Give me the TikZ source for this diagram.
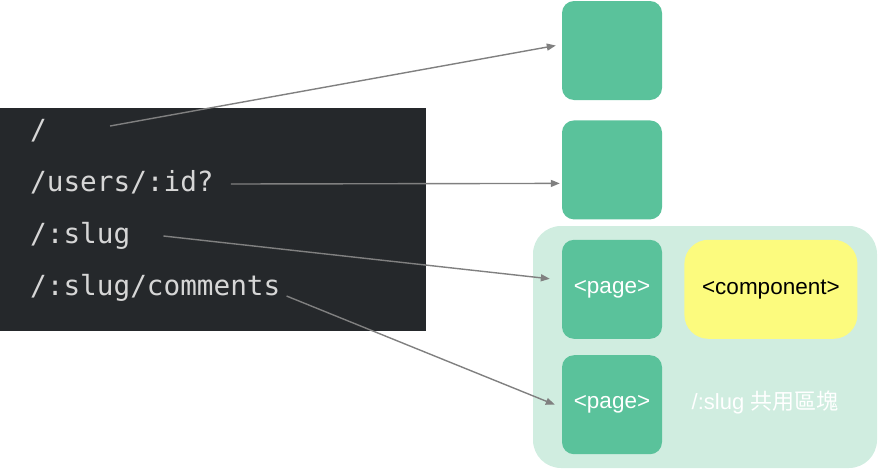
\documentclass[tikz,border=0pt]{standalone}
\usepackage{fontspec}
\setmainfont{Liberation Sans}
\setmonofont{DejaVu Sans Mono}
\newfontfamily\cjkfont{Noto Sans CJK TC}
\usetikzlibrary{positioning, arrows.meta}
\definecolor{codebg}{HTML}{25282B}
\definecolor{codefg}{HTML}{D6D6D6}
\definecolor{viewgreen}{HTML}{5AC29B}
\definecolor{sharedgreen}{HTML}{D0EDE0}
\definecolor{widgetyellow}{HTML}{FCFB7E}
\definecolor{linkgray}{HTML}{808080}
\tikzset{
  > = {Triangle[length = 9pt, width = 7pt]},   % small filled arrowheads
  route/.style = {anchor = base west, inner sep = 0pt, text = codefg,
    text height = 20pt, text depth = 6pt,
    font = \ttfamily\fontsize{27.7}{32}\selectfont},
  view/.style = {fill = viewgreen, rounded corners = 12pt, text = white,
    minimum width = 100pt, minimum height = 99pt,
    font = \fontsize{22.5}{26}\selectfont},
  widget/.style = {view, fill = widgetyellow, rounded corners = 24pt,
    minimum width = 173pt, text = black},
  shared/.style = {fill = sharedgreen, rounded corners = 28pt,
    minimum width = 344pt, minimum height = 242pt},
  match/.style = {->, draw = linkgray, line width = 1.4pt}
}
\def \gap {20pt}

\begin{document}
\begin{tikzpicture}[x = 1pt, y = -1pt]
\useasboundingbox (0,0) rectangle (878,469);

%% Route table
\node [fill = codebg, minimum width = 426pt, minimum height = 223pt, inner sep = 0pt] (code) at (213,219.5) {};
\node [route] (r1) at (30,139) {/};
\node [route] (r2) at (30,191) {/users/:id?};
\node [route] (r3) at (30,243) {/:slug};
\node [route] (r4) at (30,295) {/:slug/comments};

%% Shared block
\node [shared] (slug) at (705,347) {};
\node [font = \fontsize{22}{26}\selectfont, text = white] (slugname) at (765,402) {/:slug {\cjkfont 共用區塊}};

%% Views
\node [view] (v1) at (612,50.5) {};
\node [view] (v2) [below = \gap of v1] {};
\node [view] (p1) [below = \gap of v2] {<page>};
\node [view] (p2) [below = 16pt of p1] {<page>};
\node [widget] (comp) [right = 22pt of p1] {<component>};

%% Matches
\draw [match] ([xshift = 63pt, yshift = 6pt]r1.east) -- ([xshift = -6pt, yshift = 5pt]v1.west);
\draw [match] ([xshift = 17pt]r2.east) -- ([xshift = -2pt, yshift = -13.5pt]v2.west);
\draw [match] ([xshift = 33pt]r3.east) -- ([xshift = -12pt, yshift = 10.5pt]p1.west);
\draw [match] ([xshift = 6pt, yshift = -8pt]r4.east) -- ([xshift = -7pt]p2.west);

\end{tikzpicture}
\end{document}
